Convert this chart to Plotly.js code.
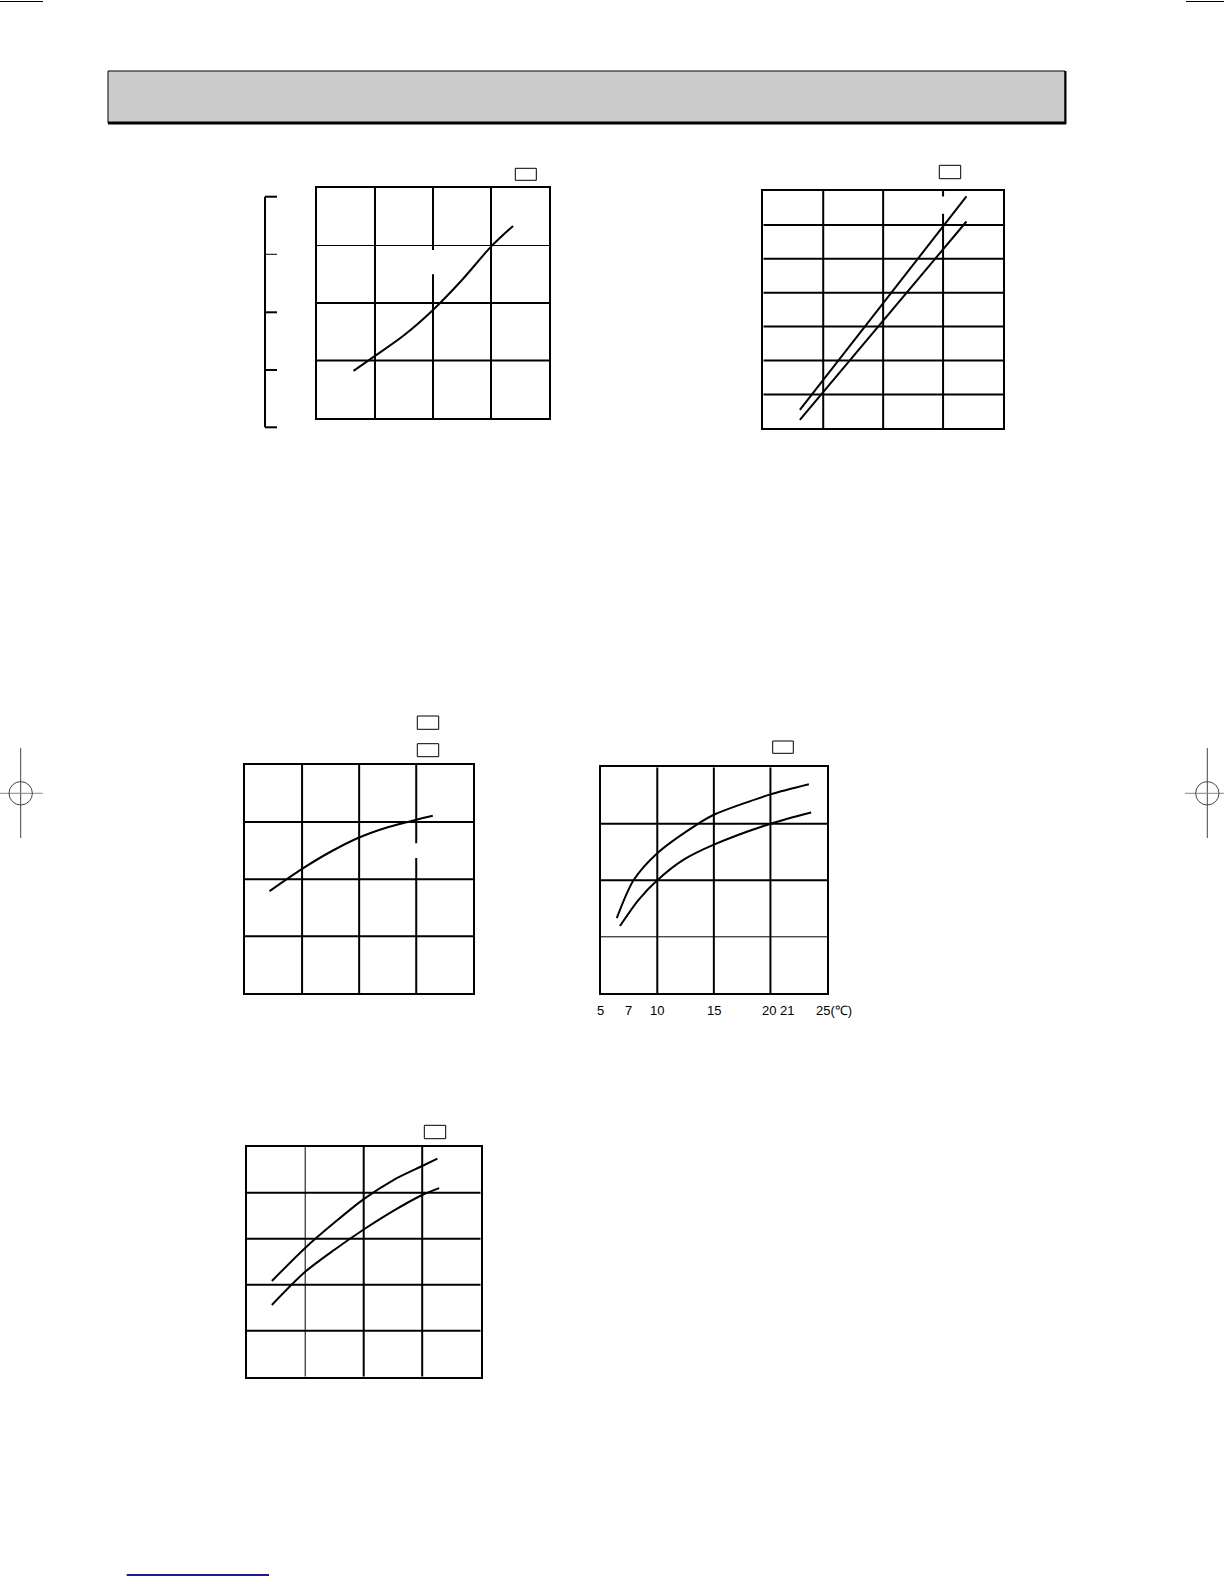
<!DOCTYPE html>
<html>
<head>
<meta charset="utf-8">
<script src="https://cdn.plot.ly/plotly-3.0.1.min.js"></script>
<style>
  html, body { margin: 0; padding: 0; background: #fff; }
  #page { width: 1224px; height: 1584px; }
</style>
</head>
<body>
<div id="page"></div>
<script>
// chart 1 (top left): one curve, 4 x 4 grid
const c1x = [0.63, 1.0, 1.5, 2.0, 2.5, 3.0, 3.38];
const c1y = [0.82, 1.08, 1.44, 1.88, 2.40, 2.98, 3.34];

// chart 2 (top right): two near straight lines, 4 x 7 grid
const c2xA = [0.61, 2.0, 3.39];
const c2yA = [0.54, 3.69, 6.84];
const c2xB = [0.61, 2.0, 3.39];
const c2yB = [0.25, 3.17, 6.10];

// chart 3 (middle left): one curve, 4 x 4 grid
const c3x = [0.43, 1.0, 1.5, 2.0, 2.5, 3.0, 3.29];
const c3y = [1.79, 2.18, 2.48, 2.73, 2.91, 3.04, 3.11];

// chart 4 (middle right): two curves against temperature
const c4xUp = [6.42, 7.9, 10, 13.6, 15, 20, 23.4];
const c4yUp = [1.33, 2.0, 2.48, 3.0, 3.16, 3.52, 3.70];
const c4xLo = [6.7, 8.33, 10, 12.3, 15, 20, 23.6];
const c4yLo = [1.19, 1.65, 2.0, 2.36, 2.63, 3.0, 3.20];
const c4tickVals = [5, 7, 10, 15, 20, 21, 25];
const c4tickText = ["5", "7", "10", "15", "20", "21", "25(\u2103)"];

// chart 5 (bottom left): two curves, 4 x 5 grid
const c5xUp = [0.43, 1.0, 1.5, 2.0, 2.5, 3.0, 3.26];
const c5yUp = [2.08, 2.80, 3.35, 3.86, 4.27, 4.58, 4.74];
const c5xLo = [0.43, 1.0, 1.5, 2.0, 2.5, 3.0, 3.29];
const c5yLo = [1.56, 2.28, 2.76, 3.20, 3.60, 3.95, 4.10];

const W = 1224, H = 1584;
const px = v => v / W;
const py = v => 1 - v / H;

function curve(x, y, xa, ya, smooth) {
    return {
        type: "scatter", mode: "lines", x: x, y: y, xaxis: xa, yaxis: ya,
        line: { color: "#000", width: 2, shape: smooth ? "spline" : "linear", smoothing: 0.8 },
        hoverinfo: "skip", showlegend: false
    };
}

const traces = [
    curve(c1x, c1y, "x", "y", true),
    curve(c2xA, c2yA, "x2", "y2", false),
    curve(c2xB, c2yB, "x2", "y2", false),
    curve(c3x, c3y, "x3", "y3", true),
    curve(c4xUp, c4yUp, "x4", "y4", true),
    curve(c4xLo, c4yLo, "x4", "y4", true),
    curve(c5xUp, c5yUp, "x5", "y5", true),
    curve(c5xLo, c5yLo, "x5", "y5", true)
];

// axis box in page pixels -> domains
function axes(n, left, right, top, bottom, xr, yr) {
    const s = n === 1 ? "" : String(n);
    const base = {
        showgrid: false, zeroline: false, showline: true, mirror: true,
        linecolor: "#000", linewidth: 2, ticks: "", showticklabels: false, fixedrange: true
    };
    const out = {};
    out["xaxis" + s] = Object.assign({}, base, {
        domain: [px(left), px(right)], range: xr, anchor: "y" + s
    });
    out["yaxis" + s] = Object.assign({}, base, {
        domain: [py(bottom), py(top)], range: yr, anchor: "x" + s
    });
    return out;
}

// inner grid lines drawn as shapes so single lines can be thin or broken
function grid(n, xs, ys, yr, xr, opts) {
    const s = n === 1 ? "" : String(n);
    const o = opts || {};
    const shapes = [];
    const ln = (x0, y0, x1, y1, w) => shapes.push({
        type: "line", xref: "x" + s, yref: "y" + s, x0, y0, x1, y1, layer: "below",
        line: { color: "#000", width: w }
    });
    xs.forEach(x => {
        const w = (o.thinX || []).includes(x) ? 1 : 2;
        const g = (o.gaps || []).find(gp => gp.x === x);
        if (g) {
            ln(x, yr[0], x, g.y0, w);
            ln(x, g.y1, x, yr[1], w);
        } else {
            ln(x, yr[0], x, yr[1], w);
        }
    });
    ys.forEach(y => {
        const w = (o.thinY || []).includes(y) ? 1 : 2;
        ln(xr[0], y, xr[1], y, w);
    });
    return shapes;
}

function pline(x0, y0, x1, y1, w, color) {
    return {
        type: "line", xref: "paper", yref: "paper",
        x0: px(x0), y0: py(y0), x1: px(x1), y1: py(y1),
        line: { color: color || "#000", width: w }
    };
}
function prect(x0, y0, x1, y1, fill, w) {
    return {
        type: "rect", xref: "paper", yref: "paper",
        x0: px(x0), y0: py(y1), x1: px(x1), y1: py(y0),
        fillcolor: fill, line: { color: "#000", width: w }, layer: "above"
    };
}
function pcircle(cx, cy, r, color) {
    return {
        type: "circle", xref: "paper", yref: "paper",
        x0: px(cx - r), x1: px(cx + r), y0: py(cy + r), y1: py(cy - r),
        line: { color: color, width: 1 }
    };
}

const layout = Object.assign({
    width: W, height: H,
    margin: { l: 0, r: 0, t: 0, b: 0 },
    paper_bgcolor: "#fff", plot_bgcolor: "rgba(0,0,0,0)",
    showlegend: false,
    font: { family: "Liberation Sans, Arial, sans-serif", size: 13, color: "#000" }
},
    axes(1, 317, 549, 188, 418, [0, 4], [0, 4]),
    axes(2, 763.3, 1003, 191, 428.3, [0, 4], [0, 7]),
    axes(3, 245, 473.3, 765, 993.3, [0, 4], [0, 4]),
    axes(4, 600.7, 827, 767.3, 993.3, [5, 25], [0, 4]),
    axes(5, 246.7, 480.7, 1146.7, 1376.7, [0, 4], [0, 5])
);

// temperature labels under chart 4, placed on the x4 scale; the print sets some a little off their tick
const c4labelShift = [0, 5, 0, 0, -1, 5, 7];
layout.annotations = c4tickVals.map((v, i) => ({
    xref: "x4", yref: "paper", x: v, y: py(1001), yanchor: "top", xanchor: "center",
    xshift: c4labelShift[i], text: c4tickText[i], showarrow: false,
    font: { size: 13, color: "#000" }
}));

layout.shapes = [].concat(
    grid(1, [1, 2, 3], [1, 2, 3], [0, 4], [0, 4], { thinY: [3], gaps: [{ x: 2, y0: 2.50, y1: 2.92 }] }),
    grid(2, [1, 2, 3], [1, 2, 3, 4, 5, 6], [0, 7], [0, 4], { gaps: [{ x: 3, y0: 6.33, y1: 6.84 }] }),
    grid(3, [1, 2, 3], [1, 2, 3], [0, 4], [0, 4], { gaps: [{ x: 3, y0: 2.37, y1: 2.63 }] }),
    grid(4, [10, 15, 20], [1, 2, 3], [0, 4], [5, 25], { thinY: [1] }),
    grid(5, [1, 2, 3], [1, 2, 3, 4], [0, 5], [0, 4], { thinX: [1] }),
    [
        // header band
        prect(108, 71, 1065, 123, "#cccccc", 1),
        pline(108, 123, 1066, 123, 3),
        pline(1065.5, 71, 1065.5, 124, 2),
        // small label boxes above charts
        prect(515.3, 168.3, 536.3, 180.3, "#fff", 1),
        prect(939.3, 165.3, 960.7, 178.7, "#fff", 1),
        prect(417.3, 716, 438.7, 729.3, "#fff", 1),
        prect(417.3, 743.7, 438.7, 756.7, "#fff", 1),
        prect(772.7, 741, 793.3, 753.3, "#fff", 1),
        prect(424.3, 1125.3, 445.7, 1138.7, "#fff", 1),
        // bracket left of chart 1
        pline(265, 196.7, 265, 427.3, 2),
        pline(265, 196.7, 277, 196.7, 2),
        pline(265, 254.3, 277, 254.3, 1),
        pline(265, 312.3, 277, 312.3, 2),
        pline(265, 370, 277, 370, 2),
        pline(265, 427.3, 277, 427.3, 2),
        // crop marks
        pline(0, 1.5, 43, 1.5, 1),
        pline(1186, 1.5, 1224, 1.5, 1),
        pline(20.7, 748, 20.7, 838, 1, "#444"),
        pline(0, 793.3, 42.7, 793.3, 1, "#888"),
        pcircle(20.7, 793.3, 11.7, "#444"),
        pline(1207.3, 748, 1207.3, 838, 1, "#444"),
        pline(1185, 793.3, 1224, 793.3, 1, "#888"),
        pcircle(1207.3, 793.3, 11.7, "#444"),
        // blue rule at the foot
        pline(126.7, 1575, 269, 1575, 2, "#1a1a8c")
    ]
);

Plotly.newPlot("page", traces, layout, { displayModeBar: false, staticPlot: true });
</script>
</body>
</html>
